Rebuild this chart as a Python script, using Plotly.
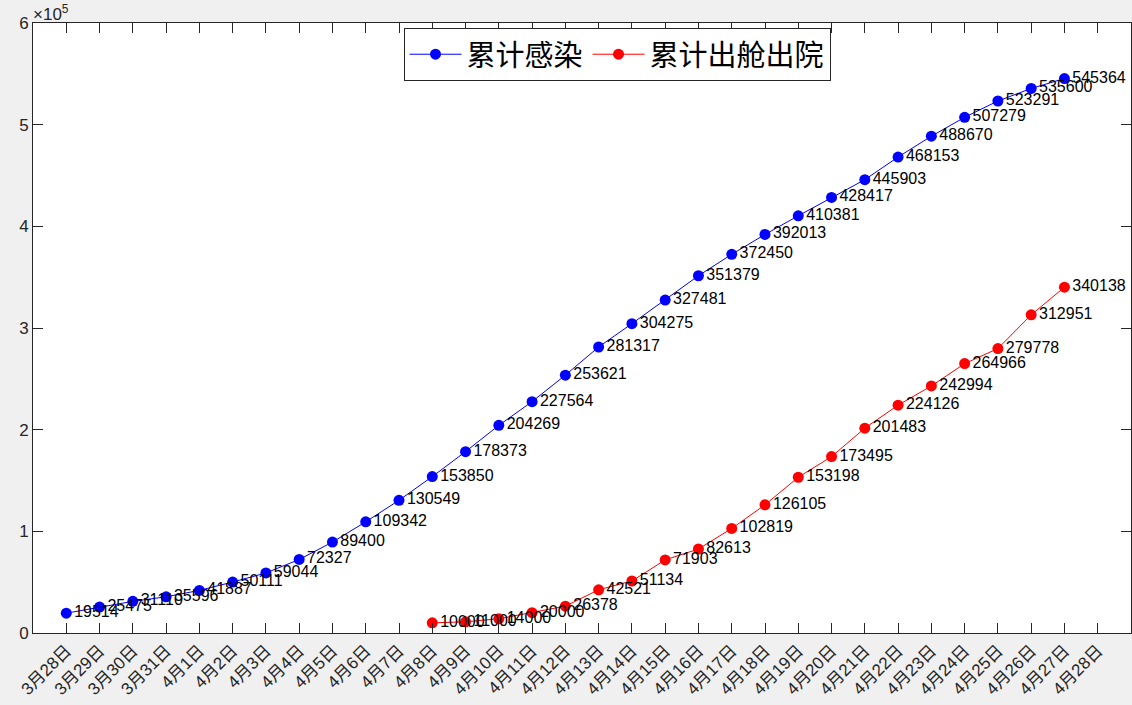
import plotly.graph_objects as go

dates = ["3月28日", "3月29日", "3月30日", "3月31日", "4月1日", "4月2日", "4月3日", "4月4日",
         "4月5日", "4月6日", "4月7日", "4月8日", "4月9日", "4月10日", "4月11日", "4月12日",
         "4月13日", "4月14日", "4月15日", "4月16日", "4月17日", "4月18日", "4月19日", "4月20日",
         "4月21日", "4月22日", "4月23日", "4月24日", "4月25日", "4月26日", "4月27日", "4月28日"]

infected = [19514, 25475, 31110, 35596, 41887, 50111, 59044, 72327, 89400, 109342, 130549,
            153850, 178373, 204269, 227564, 253621, 281317, 304275, 327481, 351379, 372450,
            392013, 410381, 428417, 445903, 468153, 488670, 507279, 523291, 535600, 545364]

discharged_start = "4月8日"
discharged = [10000, 11000, 14000, 20000, 26378, 42521, 51134, 71903, 82613, 102819, 126105,
              153198, 173495, 201483, 224126, 242994, 264966, 279778, 312951, 340138]

yticks = [0, 1, 2, 3, 4, 5, 6]
yscale = 1e5

xpos = list(range(1, len(dates) + 1))
x_inf = xpos[:len(infected)]
s = dates.index(discharged_start)
x_dis = xpos[s:s + len(discharged)]

fig = go.Figure()
fig.add_trace(go.Scatter(
    x=x_inf, y=infected, mode="lines+markers+text", name="累计感染",
    line=dict(color="#0000ff", width=1), marker=dict(color="#0000ff", size=11),
    text=[str(v) for v in infected], textposition="middle right",
    textfont=dict(family="Arial, Liberation Sans", size=16, color="black"),
    cliponaxis=False,
))
fig.add_trace(go.Scatter(
    x=x_dis, y=discharged, mode="lines+markers+text", name="累计出舱出院",
    line=dict(color="#ff0000", width=1), marker=dict(color="#ff0000", size=11),
    text=[str(v) for v in discharged], textposition="middle right",
    textfont=dict(family="Arial, Liberation Sans", size=16, color="black"),
    cliponaxis=False,
))

axcol = "#262626"
fig.update_layout(
    width=1132, height=705,
    margin=dict(l=33, r=1, t=23, b=72),
    paper_bgcolor="#f0f0f0", plot_bgcolor="white",
    showlegend=True,
    legend=dict(
        orientation="h", x=(617 - 33) / 1098, xanchor="center", y=0.992, yanchor="top",
        bgcolor="white", bordercolor="#262626", borderwidth=1,
        font=dict(family="Noto Sans CJK SC", size=29, color="black"),
        itemwidth=52, tracegroupgap=0,
    ),
    xaxis=dict(
        range=[0, 33], tickvals=xpos, ticktext=dates, tickangle=-45,
        ticks="inside", ticklen=10, tickcolor=axcol, showgrid=False, zeroline=False,
        showline=True, linecolor=axcol, linewidth=1, mirror="ticks",
        tickfont=dict(family="Arial, Noto Sans CJK SC", size=17, color=axcol),
    ),
    yaxis=dict(
        range=[0, 6e5], tickvals=[v * yscale for v in yticks], ticktext=[str(v) for v in yticks],
        ticks="inside", ticklen=10, tickcolor=axcol, showgrid=False, zeroline=False,
        showline=True, linecolor=axcol, linewidth=1, mirror="ticks",
        tickfont=dict(family="Arial", size=17, color=axcol),
    ),
    annotations=[dict(
        text="×10<sup>5</sup>", xref="paper", yref="paper", x=0, y=1, xanchor="left",
        yanchor="bottom", showarrow=False, font=dict(family="Arial", size=17, color=axcol),
        yshift=-3, xshift=-2,
    )],
)

fig.write_html("out.html")
